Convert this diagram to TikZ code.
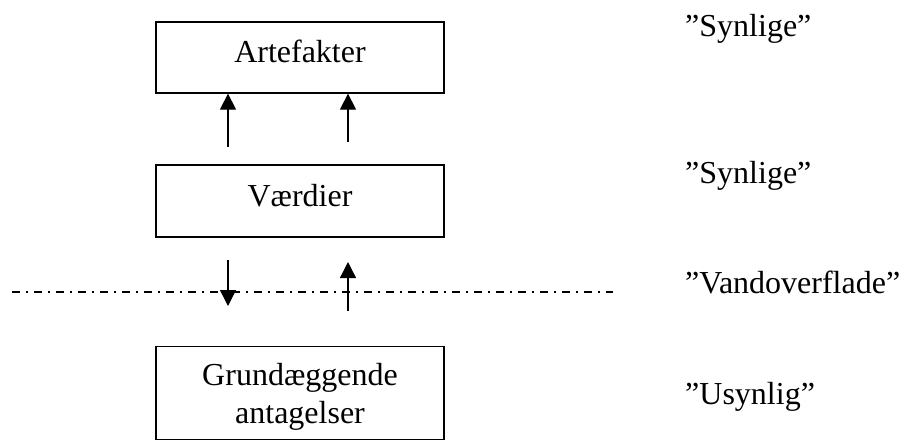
\documentclass[tikz,border=0pt]{standalone}
\usepackage{fontspec}
\setmainfont{Liberation Serif}
\usetikzlibrary{arrows.meta}
\tikzset{
  kasse/.style={draw, line width=1.3pt, minimum width=288pt, inner sep=0pt, align=center, font=\fontsize{32}{38}\selectfont},
  pil/.style={line width=1.3pt, -{Triangle[width=16pt,length=16pt]}},
  etiket/.style={anchor=base west, inner sep=0pt, font=\fontsize{32}{38}\selectfont},
  streg/.style={line width=1.5pt, dash pattern=on 8pt off 6pt on 1.5pt off 6.5pt},
}
\begin{document}
\begin{tikzpicture}[x=1pt,y=1pt]
        \useasboundingbox (0,0) rectangle (901,440);
        \node[kasse, minimum height=71pt, text height=22pt, text depth=11pt] (artefakter) at (300,382.5) {Artefakter};
        \node[kasse, minimum height=72pt, text height=22pt, text depth=11pt] (vaerdier) at (300,239) {Værdier};
        \node[kasse, minimum height=92.5pt] (grund) at (300,47) {\rule{0pt}{29pt}Grundæggende\\antagelser};

        \coordinate (op1) at (228,293);
        \coordinate (op2) at (348,298);
        \draw[pil](op1) -- (op1 |- artefakter.south);
        \draw[pil](op2) -- (op2 |- artefakter.south);

        \coordinate (ned1) at (228,180);
        \coordinate (ned2) at (228,134);
        \coordinate (op3) at (348,129);
        \coordinate (op4) at (348,178);
        \draw[pil](ned1) -- (ned2);
        \draw[pil](op3) -- (op4);

        \coordinate (flade1) at (12,148);
        \coordinate (flade2) at (613,148);
        \draw[streg](flade1) -- (flade2);

        \node[etiket] (synlig1) at (685,403) {”Synlige”};
        \node[etiket] (synlig2) at (685,257) {”Synlige”};
        \node[etiket] (vand) at (685,147) {”Vandoverflade”};
        \node[etiket] (usynlig) at (685,36) {”Usynlig”};
\end{tikzpicture}
\end{document}
